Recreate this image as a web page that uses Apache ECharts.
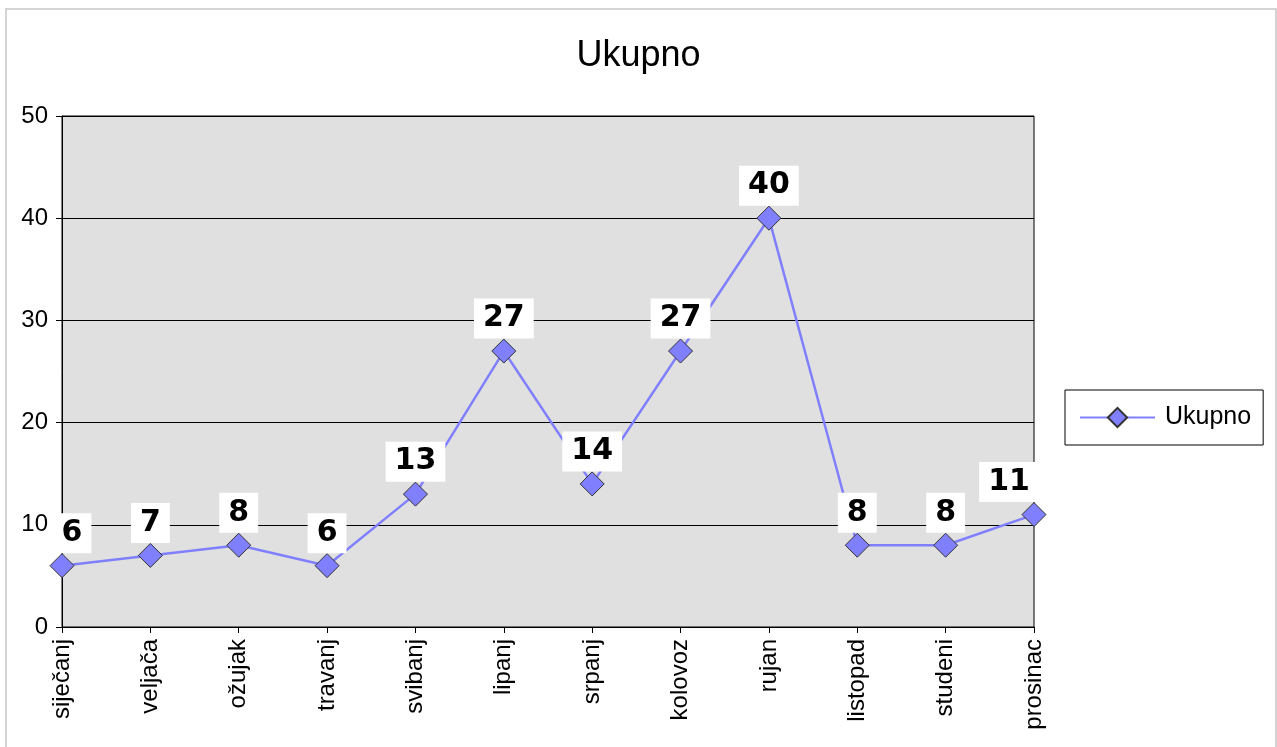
<!DOCTYPE html>
<html>
<head>
<meta charset="utf-8">
<script src="https://cdn.jsdelivr.net/npm/echarts@6/dist/echarts.min.js"></script>
<style>
  html, body { margin: 0; padding: 0; background: #fff; overflow: hidden; }
  #chart { width: 1277px; height: 747px; }
  #frame {
    position: absolute; left: 5px; top: 8px; width: 1268px; height: 760px;
    border: 2px solid #d4d4d4; pointer-events: none;
  }
</style>
</head>
<body>
<div id="chart"></div>
<div id="frame"></div>
<script>
const months = ["siječanj", "veljača", "ožujak", "travanj", "svibanj", "lipanj",
  "srpanj", "kolovoz", "rujan", "listopad", "studeni", "prosinac"];
const ukupno = [6, 7, 8, 6, 13, 27, 14, 27, 40, 8, 8, 11];
const yTicks = [0, 10, 20, 30, 40, 50];

const font = "Liberation Sans, Arial, sans-serif";

// first and last labels are pushed inside the plot area, like the original
const seriesData = ukupno.map((v, i) => {
  const item = { value: v };
  if (i === 0) item.label = { offset: [10, 0] };
  if (i === ukupno.length - 1) item.label = { offset: [-25, 0] };
  return item;
});

const chart = echarts.init(document.getElementById("chart"));

chart.setOption({
  animation: false,
  title: {
    text: "Ukupno",
    left: "center",
    top: 33,
    textStyle: { fontFamily: font, fontSize: 36, fontWeight: "normal", color: "#000" }
  },
  legend: {
    left: 1065,
    top: 390,
    orient: "vertical",
    padding: [15, 12, 15, 14],
    borderColor: "#000",
    borderWidth: 1,
    itemWidth: 75,
    itemHeight: 24,
    itemGap: 0,
    textStyle: { fontFamily: font, fontSize: 25, color: "#000", padding: [0, 0, 0, 5] },
    data: ["Ukupno"]
  },
  grid: {
    left: 62,
    top: 116,
    right: 243,
    bottom: 120,
    show: true,
    backgroundColor: "#e0e0e0",
    borderColor: "#000",
    borderWidth: 1
  },
  xAxis: {
    type: "category",
    data: months,
    boundaryGap: false,
    axisLine: { lineStyle: { color: "#000", width: 1 } },
    axisTick: { show: true, length: 6, lineStyle: { color: "#000" } },
    axisLabel: {
      rotate: 90,
      interval: 0,
      margin: 12,
      fontFamily: font,
      fontSize: 24,
      color: "#000"
    }
  },
  yAxis: {
    type: "value",
    min: yTicks[0],
    max: yTicks[yTicks.length - 1],
    interval: yTicks[1] - yTicks[0],
    axisLine: { show: true, lineStyle: { color: "#000", width: 1 } },
    axisTick: { show: true, length: 6, lineStyle: { color: "#000" } },
    axisLabel: { margin: 14, fontFamily: font, fontSize: 24, color: "#000" },
    splitLine: { show: true, lineStyle: { color: "#000", width: 1 } }
  },
  series: [{
    name: "Ukupno",
    type: "line",
    data: seriesData,
    symbol: "diamond",
    symbolSize: 24,
    showAllSymbol: true,
    lineStyle: { color: "#8080ff", width: 2.5 },
    itemStyle: { color: "#8080ff", borderColor: "#333", borderWidth: 1 },
    label: {
      show: true,
      position: "top",
      distance: 0,
      fontFamily: "DejaVu Sans, Verdana, sans-serif",
      fontWeight: "bold",
      fontSize: 30,
      lineHeight: 30,
      color: "#000",
      backgroundColor: "#fff",
      padding: [5, 9, 5, 9]
    }
  }]
});
</script>
</body>
</html>
